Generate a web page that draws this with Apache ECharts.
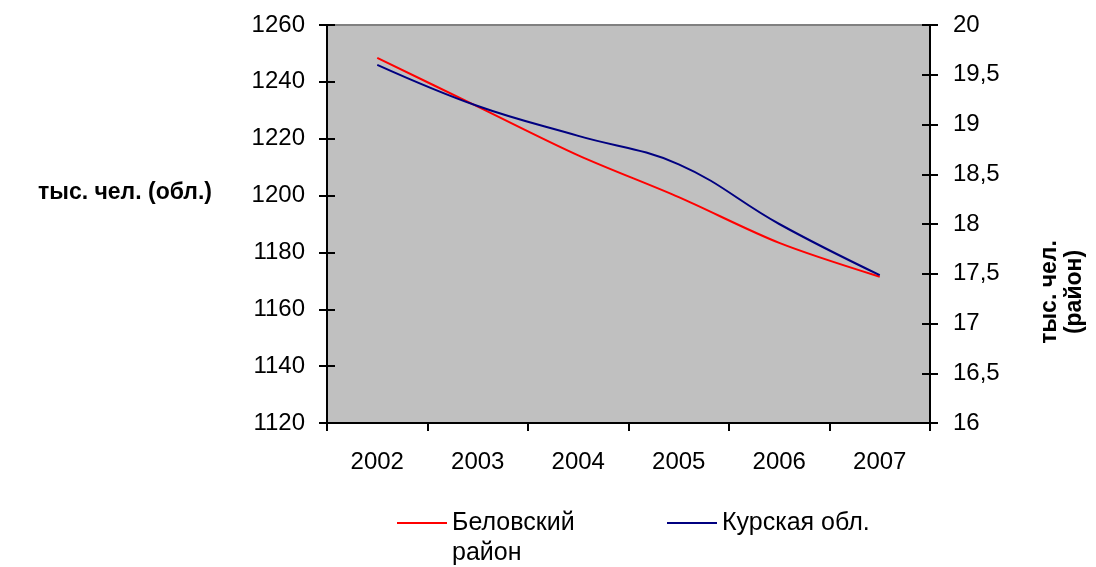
<!DOCTYPE html>
<html>
<head>
<meta charset="utf-8">
<script src="https://cdn.jsdelivr.net/npm/echarts@6/dist/echarts.min.js"></script>
<style>
html,body{margin:0;padding:0;background:#fff;}
#c{width:1096px;height:567px;}
</style>
</head>
<body>
<div id="c"></div>
<script>
var years = ['2002', '2003', '2004', '2005', '2006', '2007'];
var belovsky = [19.67, 19.18, 18.69, 18.27, 17.81, 17.47];   // тыс. чел. (район), right axis
var kursk = [1246, 1231.5, 1221, 1211, 1190, 1172];         // тыс. чел. (обл.), left axis
var leftTicks = {min: 1120, max: 1260, interval: 20};
var rightTicks = {min: 16, max: 20, interval: 0.5};

var FONT = '"Liberation Sans", Arial, sans-serif';
var FS = 24;
var LFS = 25;

var chart = echarts.init(document.getElementById('c'), null, {renderer: 'canvas'});

function yAx(t, pos, inside, showLabel, showLine) {
  return {
    type: 'value', position: pos, min: t.min, max: t.max, interval: t.interval,
    splitLine: {show: false},
    axisLine: {show: showLine, lineStyle: {color: '#000', width: 2}},
    axisTick: {show: true, inside: inside, length: 8, lineStyle: {color: '#000', width: 2}},
    axisLabel: {
      show: showLabel, color: '#000', fontSize: FS, fontFamily: FONT,
      margin: pos === 'left' ? 22 : 23,
      formatter: function (v) { return String(v).replace('.', ','); }
    }
  };
}

chart.setOption({
  animation: false,
  backgroundColor: '#fff',
  grid: {
    left: 327, right: 166, top: 25, bottom: 144,
    show: true, backgroundColor: '#c0c0c0', borderColor: '#808080', borderWidth: 2
  },
  xAxis: {
    type: 'category', data: years, boundaryGap: true,
    axisLine: {lineStyle: {color: '#000', width: 2}},
    axisTick: {show: true, length: 8, lineStyle: {color: '#000', width: 2}},
    axisLabel: {color: '#000', fontSize: FS, fontFamily: FONT, margin: 27}
  },
  yAxis: [
    yAx(leftTicks, 'left', false, true, true),
    yAx(rightTicks, 'right', false, true, true),
    yAx(leftTicks, 'left', true, false, false),
    yAx(rightTicks, 'right', true, false, false)
  ],
  legend: [
    {
      data: ['Беловский район'], left: 397, top: 508, padding: 0,
      itemWidth: 50, itemHeight: 14, icon: 'path://M0,6L50,6L50,8L0,8Z',
      formatter: function () { return 'Беловский'; },
      textStyle: {color: '#000', fontSize: LFS, fontFamily: FONT, lineHeight: 30}
    },
    {
      data: ['Курская обл.'], left: 667, top: 508, padding: 0,
      itemWidth: 50, itemHeight: 14, icon: 'path://M0,6L50,6L50,8L0,8Z',
      textStyle: {color: '#000', fontSize: LFS, fontFamily: FONT, lineHeight: 30}
    }
  ],
  graphic: [
    {
      type: 'text', position: [125, 193],
      style: {text: 'тыс. чел. (обл.)', font: 'bold 23px ' + FONT, fill: '#000',
              align: 'center', verticalAlign: 'middle'}
    },
    {
      type: 'text', position: [1062, 292], rotation: Math.PI / 2,
      style: {text: 'тыс. чел.\n(район)', font: 'bold 23px ' + FONT, fill: '#000',
              align: 'center', verticalAlign: 'middle', lineHeight: 25}
    },
    {
      type: 'text', position: [452, 553],
      style: {text: 'район', font: LFS + 'px ' + FONT, fill: '#000',
              align: 'left', verticalAlign: 'middle'}
    }
  ],
  series: [
    {
      name: 'Беловский район', type: 'line', yAxisIndex: 1, data: belovsky,
      smooth: 0.3, symbol: 'none',
      lineStyle: {color: '#ff0000', width: 2}, itemStyle: {color: '#ff0000'}
    },
    {
      name: 'Курская обл.', type: 'line', yAxisIndex: 0, data: kursk,
      smooth: 0.4, symbol: 'none',
      lineStyle: {color: '#000080', width: 2}, itemStyle: {color: '#000080'}
    }
  ]
});
</script>
</body>
</html>
